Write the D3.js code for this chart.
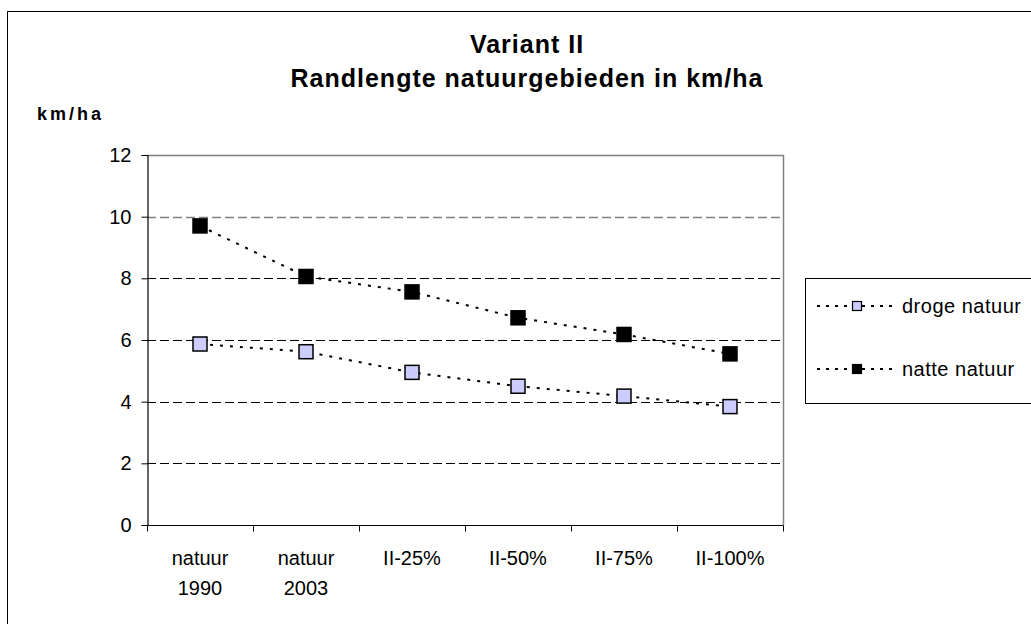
<!DOCTYPE html>
<html>
<head>
<meta charset="utf-8">
<script src="https://cdn.jsdelivr.net/npm/d3@7"></script>
<style>
  html, body { margin: 0; padding: 0; background: #fff; }
  svg { display: block; }
  text { font-family: "Liberation Sans", Arial, sans-serif; fill: #000; }
</style>
</head>
<body>
<svg id="chart" width="1031" height="624"></svg>
<script>
const categories = [["natuur", "1990"], ["natuur", "2003"], ["II-25%"], ["II-50%"], ["II-75%"], ["II-100%"]];
const categoryKeys = ["natuur 1990", "natuur 2003", "II-25%", "II-50%", "II-75%", "II-100%"];
const drogeNatuur = [5.87, 5.62, 4.95, 4.50, 4.18, 3.84];
const natteNatuur = [9.70, 8.06, 7.56, 6.72, 6.18, 5.55];
const yTicks = [0, 2, 4, 6, 8, 10, 12];
const seriesNames = ["droge natuur", "natte natuur"];
const titleLines = ["Variant II", "Randlengte natuurgebieden in km/ha"];
const yAxisTitle = "km/ha";

const svg = d3.select("#chart");

// outer chart border (extends beyond the visible frame on right and bottom)
svg.append("rect")
  .attr("x", 7.5).attr("y", 11.5)
  .attr("width", 1100).attr("height", 700)
  .attr("fill", "none").attr("stroke", "#000").attr("stroke-width", 1);

const plotL = 147, plotR = 783, plotT = 155, plotB = 525;

const x = d3.scaleBand().domain(categoryKeys).range([plotL, plotR]).padding(0);
const y = d3.scaleLinear().domain([0, 12]).range([plotB, plotT]);
const cx = k => x(k) + x.bandwidth() / 2;

// gridlines
svg.append("g").selectAll("line")
  .data(yTicks.filter(v => v > 0 && v < 12))
  .join("line")
  .attr("x1", plotL).attr("x2", plotR)
  .attr("y1", d => Math.round(y(d)) + 0.5).attr("y2", d => Math.round(y(d)) + 0.5)
  .attr("stroke", d => d === 10 ? "#808080" : "#000")
  .attr("stroke-width", d => d === 10 ? 1.6 : 1)
  .attr("stroke-dasharray", "9,4");

// plot frame top & right (grey)
svg.append("path")
  .attr("d", `M${plotL},${plotT + 0.5}H${plotR + 0.5}V${plotB}`)
  .attr("fill", "none").attr("stroke", "#808080").attr("stroke-width", 1.5);

// y axis
const yAxis = d3.axisLeft(y).tickValues(yTicks).tickSize(6).tickPadding(10);
const gy = svg.append("g").attr("transform", `translate(${plotL + 0.5},0)`).call(yAxis);
gy.select(".domain").attr("stroke", "#000").attr("stroke-width", 1.2);
gy.selectAll(".tick line").attr("stroke", "#000");
gy.selectAll(".tick text").attr("font-size", 20).attr("font-family", '"Liberation Sans", Arial, sans-serif').attr("fill", "#000");

// x axis (labels at centers, ticks at category boundaries)
const xAxis = d3.axisBottom(x).tickSize(0).tickPadding(0);
const gx = svg.append("g").attr("transform", `translate(0,${plotB + 0.5})`).call(xAxis);
gx.select(".domain").attr("d", `M${plotL},0H${plotR + 0.5}`).attr("stroke", "#000").attr("stroke-width", 1.2);
gx.selectAll(".tick text").each(function(d, i) {
  const t = d3.select(this);
  t.text(null).attr("font-size", 20).attr("font-family", '"Liberation Sans", Arial, sans-serif')
    .attr("fill", "#000").attr("y", 0).attr("dy", null);
  categories[i].forEach((ln, j) => {
    t.append("tspan").attr("x", 0).attr("y", 39 + j * 30).text(ln);
  });
});
const boundaries = categoryKeys.map(k => x(k)).concat([plotR]);
gx.append("g").selectAll("line").data(boundaries).join("line")
  .attr("x1", d => Math.round(d) + 0.5).attr("x2", d => Math.round(d) + 0.5)
  .attr("y1", 0).attr("y2", 6).attr("stroke", "#000");

// series
const lineGen = d3.line().x((d, i) => cx(categoryKeys[i])).y(d => y(d));
const seriesData = [
  { name: seriesNames[0], values: drogeNatuur, fill: "#ccccff" },
  { name: seriesNames[1], values: natteNatuur, fill: "#000000" }
];
seriesData.forEach(s => {
  svg.append("path").datum(s.values).attr("d", lineGen)
    .attr("fill", "none").attr("stroke", "#000").attr("stroke-width", 2)
    .attr("stroke-dasharray", "3,7");
  svg.append("g").selectAll("rect").data(s.values).join("rect")
    .attr("x", (d, i) => cx(categoryKeys[i]) - 7)
    .attr("y", d => y(d) - 7)
    .attr("width", 14).attr("height", 14)
    .attr("fill", s.fill).attr("stroke", "#000").attr("stroke-width", 1.5);
});

// titles
const title = svg.append("text").attr("text-anchor", "middle")
  .attr("font-size", 25).attr("font-weight", "bold").attr("letter-spacing", 1);
titleLines.forEach((l, j) => {
  title.append("tspan").attr("x", 527).attr("y", 53 + j * 34).text(l);
});
svg.append("text").attr("x", 37).attr("y", 120)
  .attr("font-size", 18).attr("font-weight", "bold").attr("letter-spacing", 3)
  .text(yAxisTitle);

// legend
const lg = svg.append("g");
lg.append("rect").attr("x", 805.5).attr("y", 278.5).attr("width", 300).attr("height", 125)
  .attr("fill", "#fff").attr("stroke", "#000").attr("stroke-width", 1);
const legendY = [306, 369];
seriesData.forEach((s, i) => {
  const g = lg.append("g").attr("transform", `translate(0,${legendY[i]})`);
  g.append("line").attr("x1", 817).attr("x2", 894).attr("y1", 0).attr("y2", 0)
    .attr("stroke", "#000").attr("stroke-width", 2).attr("stroke-dasharray", "3,6");
  g.append("rect").attr("x", 852.5).attr("y", -4.5).attr("width", 9).attr("height", 9)
    .attr("fill", s.fill).attr("stroke", "#000").attr("stroke-width", 1.2);
  g.append("text").attr("x", 902).attr("y", 7).attr("font-size", 20)
    .attr("letter-spacing", 0.5).text(s.name);
});
</script>
</body>
</html>
